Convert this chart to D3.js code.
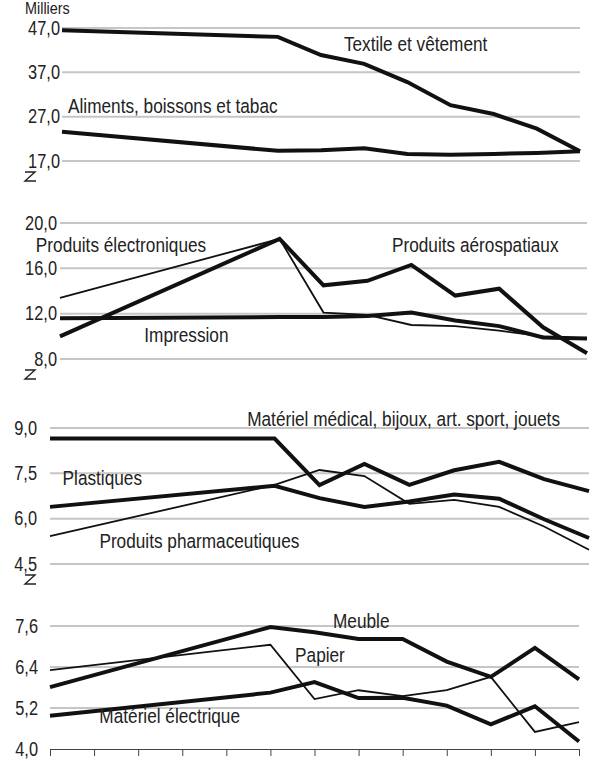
<!DOCTYPE html>
<html>
<head>
<meta charset="utf-8">
<script src="https://cdn.jsdelivr.net/npm/d3@7"></script>
<style>
  body { margin: 0; background: #fff; }
  svg text { font-family: "Liberation Sans Narrow", "Arial Narrow", "Liberation Sans", Arial, sans-serif; fill: #222; }
</style>
</head>
<body>
<script>
// position of each observation on the 13-tick time axis (no labels in the source)
var periods = [0, 5, 6, 7, 8, 9, 10, 11, 12];

// panel 1 (milliers)
var textile   = [46.5, 45.0, 40.9, 38.9, 34.8, 29.6, 27.6, 24.3, 19.2];
var aliments  = [23.6, 19.3, 19.4, 19.9, 18.6, 18.4, 18.6, 18.8, 19.2];
// panel 2
var electroniques = [13.4, 18.6, 12.1, 11.9, 11.0, 10.9, 10.5, 10.0, 9.8];
var aerospatiaux  = [10.0, 18.6, 14.5, 14.9, 16.3, 13.6, 14.2, 10.8, 8.5];
var impression    = [11.6, 11.7, 11.7, 11.8, 12.1, 11.4, 10.9, 9.9, 9.8];
// panel 3
var medical    = [8.65, 8.65, 7.11, 7.81, 7.12, 7.6, 7.88, 7.31, 6.91];
var plastiques = [6.39, 7.09, 6.68, 6.39, 6.57, 6.80, 6.66, 5.98, 5.36];
var pharma     = [5.42, 7.12, 7.61, 7.41, 6.49, 6.62, 6.39, 5.74, 4.97];
// panel 4
var meuble     = [5.81, 7.57, 7.42, 7.22, 7.22, 6.56, 6.11, 6.96, 6.04];
var electrique = [4.97, 5.65, 5.96, 5.49, 5.50, 5.27, 4.72, 5.25, 4.22];
var papier     = [6.31, 7.05, 5.46, 5.72, 5.55, 5.72, 6.11, 4.50, 4.79];

var ticks1 = [17, 27, 37, 47];
var ticks2 = [8, 12, 16, 20];
var ticks3 = [4.5, 6, 7.5, 9];
var ticks4 = [4, 5.2, 6.4, 7.6];

var width = 594, height = 761;
var fmt = function(v) { return d3.format(".1f")(v).replace(".", ","); };
// the source uses a condensed face: squeeze a regular one horizontally
var narrow = 0.84;

var svg = d3.select("body").append("svg")
    .attr("width", width)
    .attr("height", height);

svg.append("text")
    .attr("transform", "translate(25,14) scale(0.9,1)")
    .attr("font-size", 16)
    .text("Milliers");

var panels = [
  { ticks: ticks1, x0: 62, x1: 580, top: 28, bottom: 161, labelX: 60, brk: true,
    series: [{v: textile, w: 4}, {v: aliments, w: 4}],
    labels: [{t: "Textile et vêtement", i: 6.53, y: 43.3},
             {t: "Aliments, boissons et tabac", i: 0.14, y: 29.3}] },
  { ticks: ticks2, x0: 60, x1: 587, top: 223, bottom: 359, labelX: 57, brk: true,
    series: [{v: electroniques, w: 1.8}, {v: impression, w: 4}, {v: aerospatiaux, w: 4}],
    labels: [{t: "Produits électroniques", i: -0.55, y: 18.1},
             {t: "Produits aérospatiaux", i: 7.56, y: 18.1},
             {t: "Impression", i: 1.92, y: 10.1}] },
  { ticks: ticks3, x0: 50, x1: 589, top: 428, bottom: 564, labelX: 37, brk: true,
    series: [{v: pharma, w: 1.8}, {v: plastiques, w: 4}, {v: medical, w: 4}],
    labels: [{t: "Matériel médical, bijoux, art. sport, jouets", i: 4.39, y: 9.3},
             {t: "Plastiques", i: 0.28, y: 7.33},
             {t: "Produits pharmaceutiques", i: 1.1, y: 5.26}] },
  { ticks: ticks4, x0: 50, x1: 579, top: 626, bottom: 749, labelX: 38, brk: false,
    series: [{v: papier, w: 1.8}, {v: electrique, w: 4}, {v: meuble, w: 4}],
    labels: [{t: "Meuble", i: 6.42, y: 7.75},
             {t: "Papier", i: 5.56, y: 6.76},
             {t: "Matériel électrique", i: 1.12, y: 4.97}] }
];

panels.forEach(function(p, k) {
  var x = d3.scaleLinear().domain([0, 12]).range([p.x0, p.x1]);
  var y = d3.scaleLinear().domain(d3.extent(p.ticks)).range([p.bottom, p.top]);
  var g = svg.append("g");

  // gridlines
  g.selectAll("line.grid")
    .data(p.ticks.filter(function(t, i) { return k < 3 || i > 0; }))
    .enter().append("line")
    .attr("class", "grid")
    .attr("x1", p.x0).attr("x2", p.x1)
    .attr("y1", function(d) { return y(d); })
    .attr("y2", function(d) { return y(d); })
    .attr("stroke", "#c6c6c6")
    .attr("stroke-width", 2);

  // tick labels
  g.selectAll("text.tick")
    .data(p.ticks)
    .enter().append("text")
    .attr("transform", function(d) {
      return "translate(" + p.labelX + "," + (y(d) + 6.5) + ") scale(" + narrow + ",1)";
    })
    .attr("text-anchor", "end")
    .attr("font-size", 19.5)
    .text(fmt);

  // axis break mark
  if (p.brk) {
    var by = p.bottom + 11;
    g.append("path")
      .attr("d", "M25," + by + "H35L25," + (by + 9) + "H36")
      .attr("fill", "none")
      .attr("stroke", "#222")
      .attr("stroke-width", 1.4);
  }

  var line = d3.line()
    .x(function(d, i) { return x(periods[i]); })
    .y(function(d) { return y(d); });

  g.selectAll("path.series")
    .data(p.series)
    .enter().append("path")
    .attr("class", "series")
    .attr("d", function(d) { return line(d.v); })
    .attr("fill", "none")
    .attr("stroke", "#111")
    .attr("stroke-width", function(d) { return d.w; })
    .attr("stroke-linejoin", "miter");

  g.selectAll("text.lab")
    .data(p.labels)
    .enter().append("text")
    .attr("class", "lab")
    .attr("transform", function(d) {
      return "translate(" + x(d.i) + "," + (y(d.y) + 7) + ") scale(" + narrow + ",1)";
    })
    .attr("font-size", 20.5)
    .text(function(d) { return d.t; });

  if (k === 3) {
    var axis = d3.axisBottom(x).tickValues(d3.range(0, 13)).tickSize(7).tickFormat("");
    var ag = g.append("g")
      .attr("transform", "translate(0," + p.bottom + ")")
      .call(axis);
    ag.select(".domain").attr("stroke", "#444").attr("stroke-width", 1);
    ag.selectAll(".tick line").attr("stroke", "#444").attr("stroke-width", 1);
  }
});
</script>
</body>
</html>
